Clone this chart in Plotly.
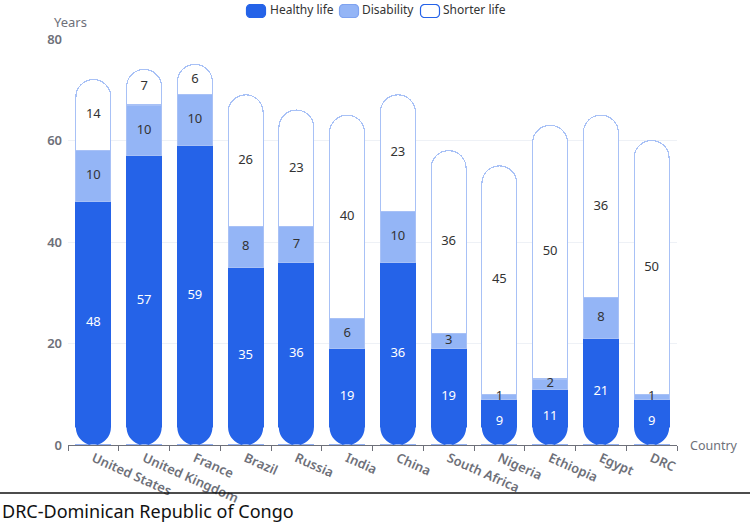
import math
import plotly.graph_objects as go

# ---------------- data ----------------
countries = ["United States", "United Kingdom", "France", "Brazil", "Russia", "India",
             "China", "South Africa", "Nigeria", "Ethiopia", "Egypt", "DRC"]
healthy = [48, 57, 59, 35, 36, 19, 36, 19, 9, 11, 21, 9]
disability = [10, 10, 10, 8, 7, 6, 10, 3, 1, 2, 8, 1]
shorter = [14, 7, 6, 26, 23, 40, 23, 36, 45, 50, 36, 50]
y_ticks = [0, 20, 40, 60, 80]
series_names = ["Healthy life", "Disability", "Shorter life"]
footnote = "DRC-Dominican Republic of Congo"

# ---------------- layout constants ----------------
W, H = 750, 523
L, R, T, B = 68, 73, 39, 78
PW, PH = W - L - R, H - T - B
BARGAP = 0.31
n = len(countries)
barw = PW / n * (1 - BARGAP)
rad = barw / 2

BLUE = "#2563e8"
LIGHT = "#94b5f6"
EDGE = "#a8c1f6"
GRAY = "#6e7079"
FONT = "Noto Sans"


def px(xp):
    return (xp - L) / PW


def py(yp):
    return (H - B - yp) / PH


xs = list(range(n))
base_dis = healthy
base_sh = [h + d for h, d in zip(healthy, disability)]

fig = go.Figure()
fig.add_bar(x=xs, y=healthy, name=series_names[0], showlegend=False,
            marker=dict(color=BLUE, line=dict(color=BLUE, width=1)))
fig.add_bar(x=xs, y=disability, name=series_names[1], showlegend=False,
            marker=dict(color=LIGHT, line=dict(color=EDGE, width=1)))
fig.add_bar(x=xs, y=shorter, name=series_names[2], showlegend=False,
            marker=dict(color="white", line=dict(color=EDGE, width=1.2), cornerradius="50%"))

# value labels
fig.add_scatter(x=xs, y=[h / 2 for h in healthy], mode="text", showlegend=False,
                text=[str(v) for v in healthy], textfont=dict(color="white", size=13, family=FONT))
fig.add_scatter(x=xs, y=[b + d / 2 for b, d in zip(base_dis, disability)], mode="text", showlegend=False,
                text=[str(v) for v in disability], textfont=dict(color="#333333", size=13, family=FONT))
fig.add_scatter(x=xs, y=[b + s / 2 for b, s in zip(base_sh, shorter)], mode="text", showlegend=False,
                text=[str(v) for v in shorter], textfont=dict(color="#333333", size=13, family=FONT))

shapes = []
# rounded-bottom masks (pixel-sized, anchored at each bar's base)
steps = 16
for i in xs:
    parts = []
    for sgn in (-1, 1):
        pts = [(sgn * (rad + 1), 0.6), (sgn * (rad + 1), rad), (sgn * rad, rad)]
        for k in range(1, steps + 1):
            a = math.pi / 2 * k / steps
            pts.append((sgn * rad * math.cos(a), rad - rad * math.sin(a)))
        pts.append((0, 0.6))
        parts.append("M " + " L ".join(f"{a:.2f},{b:.2f}" for a, b in pts) + " Z")
    shapes.append(dict(type="path", xref="x", yref="y", xsizemode="pixel", ysizemode="pixel",
                       xanchor=i, yanchor=0, path=" ".join(parts),
                       fillcolor="white", line=dict(width=0), layer="above"))


def rrect(w, h, r, steps=6):
    pts = []
    corners = [(w / 2 - r, h / 2 - r, 0), (-w / 2 + r, h / 2 - r, 90),
               (-w / 2 + r, -h / 2 + r, 180), (w / 2 - r, -h / 2 + r, 270)]
    for cx, cy, a0 in corners:
        for k in range(steps + 1):
            a = math.radians(a0 + 90 * k / steps)
            pts.append((cx + r * math.cos(a), cy + r * math.sin(a)))
    return "M " + " L ".join(f"{a:.2f},{b:.2f}" for a, b in pts) + " Z"


# custom legend
leg_items = [(256, BLUE, BLUE, 268), (349, LIGHT, "#7fa3f0", 360), (430, "white", BLUE, 441)]
annotations = []
for (cx, fill, edge, tx), name in zip(leg_items, series_names):
    shapes.append(dict(type="path", xref="paper", yref="paper", xsizemode="pixel", ysizemode="pixel",
                       xanchor=px(cx), yanchor=py(11), path=rrect(19, 13, 4),
                       fillcolor=fill, line=dict(color=edge, width=1.2)))
    annotations.append(dict(text=name, xref="paper", yref="paper", x=px(tx), y=py(9.5),
                            xanchor="left", yanchor="middle", showarrow=False,
                            font=dict(size=12, color="#333333", family=FONT)))

# footer line
shapes.append(dict(type="line", xref="paper", yref="paper", x0=px(0), x1=px(W), y0=py(493), y1=py(493),
                   line=dict(color="#111111", width=1.5)))

annotations += [
    dict(text="Years", xref="paper", yref="paper", x=px(70), y=py(22), xanchor="center", yanchor="middle",
         showarrow=False, font=dict(size=13, color=GRAY, family=FONT)),
    dict(text="Country", xref="paper", yref="paper", x=px(688), y=py(445), xanchor="left", yanchor="middle",
         showarrow=False, font=dict(size=12.5, color=GRAY, family=FONT)),
    dict(text=footnote, xref="paper", yref="paper", x=px(0), y=py(511), xanchor="left", yanchor="middle",
         showarrow=False, font=dict(size=18, color="#111111", family=FONT)),
]

fig.update_layout(
    width=W, height=H, margin=dict(l=L, r=R, t=T, b=B, autoexpand=False),
    barmode="stack", bargap=BARGAP, plot_bgcolor="white", paper_bgcolor="white",
    shapes=shapes, annotations=annotations, showlegend=False,
    font=dict(family=FONT),
    xaxis=dict(range=[-0.5, n - 0.5], tickmode="array", tickvals=xs, ticktext=countries,
               tickangle=24, ticks="", showgrid=False, zeroline=False,
               showline=True, linecolor=GRAY, linewidth=1,
               tickfont=dict(size=13, color=GRAY, family=FONT, weight=600),
               minor=dict(tickmode="array", tickvals=[i - 0.5 for i in range(n + 1)],
                          ticks="outside", ticklen=5, tickcolor=GRAY, showgrid=False)),
    yaxis=dict(range=[0, 80], tickmode="array", tickvals=y_ticks, showgrid=True, gridcolor="#eef1f6",
               zeroline=False, showline=False, ticks="", ticklabelstandoff=5,
               tickfont=dict(size=13, color=GRAY, family=FONT, weight=600)),
)

fig.write_html("out.html", config={"displayModeBar": False},
               post_script="document.body.style.margin='0';document.body.style.overflow='hidden';")
